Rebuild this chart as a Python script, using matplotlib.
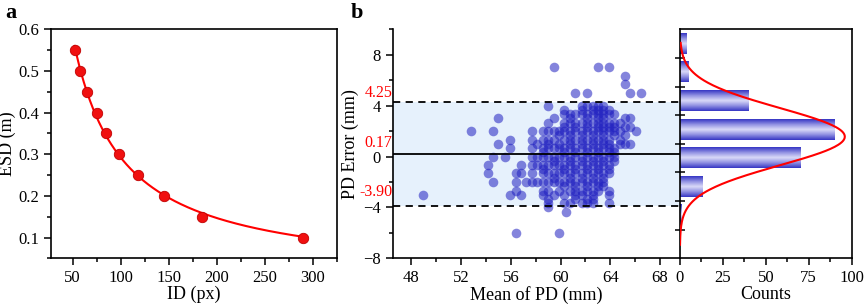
import numpy as np
import matplotlib
matplotlib.use('Agg')
import matplotlib.pyplot as plt
from matplotlib.colors import LinearSegmentedColormap
from matplotlib.ticker import MultipleLocator

plt.rcParams['font.family'] = ['Liberation Serif', 'DejaVu Serif']
plt.rcParams['font.size'] = 12
plt.rcParams['axes.linewidth'] = 1.2

# ---- panel a data
id_px = [52, 58, 65, 75, 85, 98, 118, 145, 185, 290]
esd_m = [0.55, 0.50, 0.45, 0.40, 0.35, 0.30, 0.25, 0.20, 0.15, 0.10]

# ---- panel b scatter data, grouped by error row: (PD error, [mean PD values])
rows_y = [7.0, 6.33, 5.67, 5.0, 4.0, 3.67, 3.33, 3.0, 2.67, 2.33, 2.0, 1.67, 1.33, 1.0,
          0.67, 0.33, 0.0, -0.33, -0.67, -1.0, -1.33, -1.67, -2.0, -2.33, -2.67,
          -3.0, -3.33, -3.67, -4.0, -4.33, -6.0]
rows_x = [
    [59.5, 63.0, 63.9],
    [65.2],
    [65.2],
    [61.2, 62.1, 65.6, 66.5],
    [59.0, 61.7, 62.1, 62.6, 63.0, 63.4],
    [60.3, 61.7, 62.6, 63.0, 63.4, 63.9],
    [60.3, 60.8, 61.2, 61.7, 62.1, 62.6, 63.0, 63.4, 63.9, 64.3],
    [55.0, 59.5, 60.8, 62.1, 63.0, 63.4, 65.2, 65.6],
    [59.0, 60.3, 60.8, 61.2, 61.7, 62.1, 62.6, 63.0, 63.4, 63.9, 64.3, 64.8],
    [60.3, 61.2, 62.1, 63.0, 63.4, 63.9, 64.3, 65.2, 65.6],
    [52.8, 54.6, 57.7, 58.6, 59.0, 59.5, 59.9, 60.3, 60.8, 61.2, 61.7, 62.1, 62.6,
     63.0, 63.4, 63.9, 64.3, 64.8, 66.1],
    [59.9, 60.8, 61.7, 62.6, 63.4, 64.3, 65.2],
    [55.9, 57.7, 58.6, 59.0, 59.5, 60.3, 60.8, 61.2, 61.7, 62.1, 62.6, 63.0, 63.4, 63.9, 64.8],
    [55.0, 58.1, 59.0, 59.9, 60.8, 61.7, 62.6, 63.4, 63.9, 64.8, 65.2, 65.6],
    [55.9, 57.7, 58.6, 59.0, 59.5, 59.9, 60.3, 60.8, 61.2, 61.7, 62.1, 62.6, 63.0, 63.4, 63.9, 64.3],
    [58.6, 60.3, 61.2, 62.1, 63.0, 63.9, 64.3],
    [54.6, 55.5, 57.7, 58.1, 58.6, 59.0, 59.5, 59.9, 60.3, 60.8, 61.2, 61.7, 62.1, 62.6,
     63.0, 63.4, 63.9, 64.3],
    [59.5, 60.8, 61.7, 62.6, 63.4, 64.3],
    [54.2, 56.8, 57.7, 58.1, 58.6, 59.0, 59.5, 59.9, 60.3, 60.8, 61.2, 61.7, 62.1, 62.6,
     63.0, 63.4, 63.9],
    [58.6, 60.3, 61.2, 62.1, 63.0, 63.9],
    [54.2, 56.4, 56.8, 57.7, 58.6, 59.0, 59.5, 59.9, 60.3, 60.8, 61.2, 61.7, 62.1, 62.6,
     63.0, 63.4, 63.9],
    [59.5, 60.8, 61.7, 62.6, 63.4],
    [54.6, 56.4, 57.2, 57.7, 58.1, 58.6, 59.0, 59.5, 59.9, 60.3, 60.8, 61.2, 61.7, 62.1,
     62.6, 63.0, 63.4],
    [60.3, 61.2, 62.1, 63.0, 63.4],
    [56.4, 58.6, 59.0, 59.9, 60.8, 61.2, 61.7, 62.1, 62.6, 63.0, 63.9],
    [48.9, 55.9, 56.8, 58.6, 59.5, 60.3, 61.2, 61.7, 62.6, 63.9],
    [59.0, 61.2, 62.1, 62.6],
    [59.0, 60.3, 60.8, 61.7, 62.1, 62.6, 63.9],
    [59.0],
    [60.4],
    [56.4, 59.9],
]
mean_diff = 0.17
upper_loa = 4.25
lower_loa = -3.90

# ---- histogram of errors (bin edges every 2 mm)
bin_centers = [7, 5, 3, 1, -1, -3, -5]
bin_counts = [4, 5, 40, 90, 70, 13, 1]
# normal curve drawn over histogram
curve_mu, curve_sd, curve_peak = 0.5, 2.0, 96

fig = plt.figure(figsize=(8.65, 3.05), dpi=100)
ax1 = fig.add_axes([0.059, 0.153, 0.3307, 0.751])
ax2 = fig.add_axes([0.454, 0.153, 0.332, 0.751])
ax3 = fig.add_axes([0.786, 0.153, 0.1986, 0.751])

# ---------------- panel a
xa = np.array(id_px, float)
ya = np.array(esd_m, float)
A = np.vstack([1 / xa, np.ones_like(xa)]).T
coef = np.linalg.lstsq(A, ya, rcond=None)[0]
xf = np.linspace(xa.min(), xa.max(), 300)
ax1.plot(xf, coef[0] / xf + coef[1], color='#ff0000', lw=1.5, zorder=2)
ax1.plot(id_px, esd_m, 'o', color='#f01010', mec='#c00000', mew=0.6, ms=7.5, zorder=3)
ax1.set_xlim(27.5, 325)
ax1.set_ylim(0.05, 0.6)
ax1.xaxis.set_major_locator(MultipleLocator(50))
ax1.xaxis.set_minor_locator(MultipleLocator(25))
ax1.yaxis.set_major_locator(MultipleLocator(0.1))
ax1.yaxis.set_minor_locator(MultipleLocator(0.05))
ax1.set_yticks([0.1, 0.2, 0.3, 0.4, 0.5, 0.6])
ax1.tick_params(which='both', direction='out', labelsize=12, width=1.1)
ax1.tick_params(which='major', length=5)
ax1.tick_params(which='minor', length=3)
ax1.set_xlabel('ID (px)', fontsize=13, labelpad=0)
ax1.set_ylabel('ESD (m)', fontsize=13, labelpad=2)
fig.text(0.006, 0.99, 'a', fontsize=16, fontweight='bold', va='top')

# ---------------- panel b scatter
xs = np.concatenate([np.array(r, float) for r in rows_x])
ys = np.concatenate([np.full(len(r), y) for r, y in zip(rows_x, rows_y)])
ax2.axhspan(lower_loa, upper_loa, color='#e6f1fc', zorder=0, lw=0)
ax2.scatter(xs, ys, s=48, color='#2020c0', alpha=0.55, lw=0, zorder=2)
ax2.axhline(mean_diff, color='black', lw=1.3, zorder=3)
ax2.axhline(upper_loa, color='black', lw=1.3, ls=(0, (4, 3)), zorder=3)
ax2.axhline(lower_loa, color='black', lw=1.3, ls=(0, (4, 3)), zorder=3)
ax2.set_xlim(46.5, 69.6)
ax2.set_ylim(-8, 10)
ax2.xaxis.set_major_locator(MultipleLocator(4))
ax2.xaxis.set_minor_locator(MultipleLocator(2))
ax2.set_yticks([-8, -4, 0, 4, 8])
ax2.yaxis.set_minor_locator(MultipleLocator(2))
ax2.spines['top'].set_visible(False)
ax2.spines['right'].set_visible(False)
ax2.tick_params(which='both', direction='out', labelsize=12, width=1.1)
ax2.tick_params(which='major', length=5)
ax2.tick_params(which='minor', length=3)
ax2.set_xlabel('Mean of PD (mm)', fontsize=13, labelpad=0)
ax2.set_ylabel('PD Error (mm)', fontsize=13, labelpad=3)
for val, txt, dy in [(upper_loa, '4.25', 0.75), (mean_diff, '0.17', 0.9), (lower_loa, '-3.90', 1.1)]:
    ax2.text(-0.002, val + dy, txt, color='red', fontsize=11.5, ha='right', va='center',
             transform=ax2.get_yaxis_transform())
fig.text(0.405, 0.99, 'b', fontsize=16, fontweight='bold', va='top')

# ---------------- histogram
cmap = LinearSegmentedColormap.from_list('bar', ['#3636c4', '#9090e2', '#dadaf8', '#9090e2', '#3636c4'])
grad = np.linspace(0, 1, 64).reshape(-1, 1)
for c, n in zip(bin_centers, bin_counts):
    ax3.imshow(grad, cmap=cmap, aspect='auto', extent=[0, n, c - 0.7, c + 0.75],
               interpolation='bilinear', zorder=1)
yc = np.linspace(-7.05, 7.05, 300)
ax3.plot(curve_peak * np.exp(-(yc - curve_mu) ** 2 / (2 * curve_sd ** 2)), yc,
         color='red', lw=1.5, zorder=3)
ax3.set_xlim(0, 100)
ax3.set_ylim(-8, 8)
ax3.set_yticks([-6, -4, -2, 0, 2, 4, 6])
ax3.set_yticklabels([])
ax3.xaxis.set_major_locator(MultipleLocator(25))
ax3.xaxis.set_minor_locator(MultipleLocator(12.5))
ax3.tick_params(axis='y', direction='inout', length=7, width=1.1)
ax3.tick_params(axis='x', which='both', direction='out', labelsize=12, width=1.1)
ax3.tick_params(axis='x', which='major', length=5)
ax3.tick_params(axis='x', which='minor', length=3)
ax3.set_xlabel('Counts', fontsize=13, labelpad=0)

fig.savefig('out.png', dpi=100)
